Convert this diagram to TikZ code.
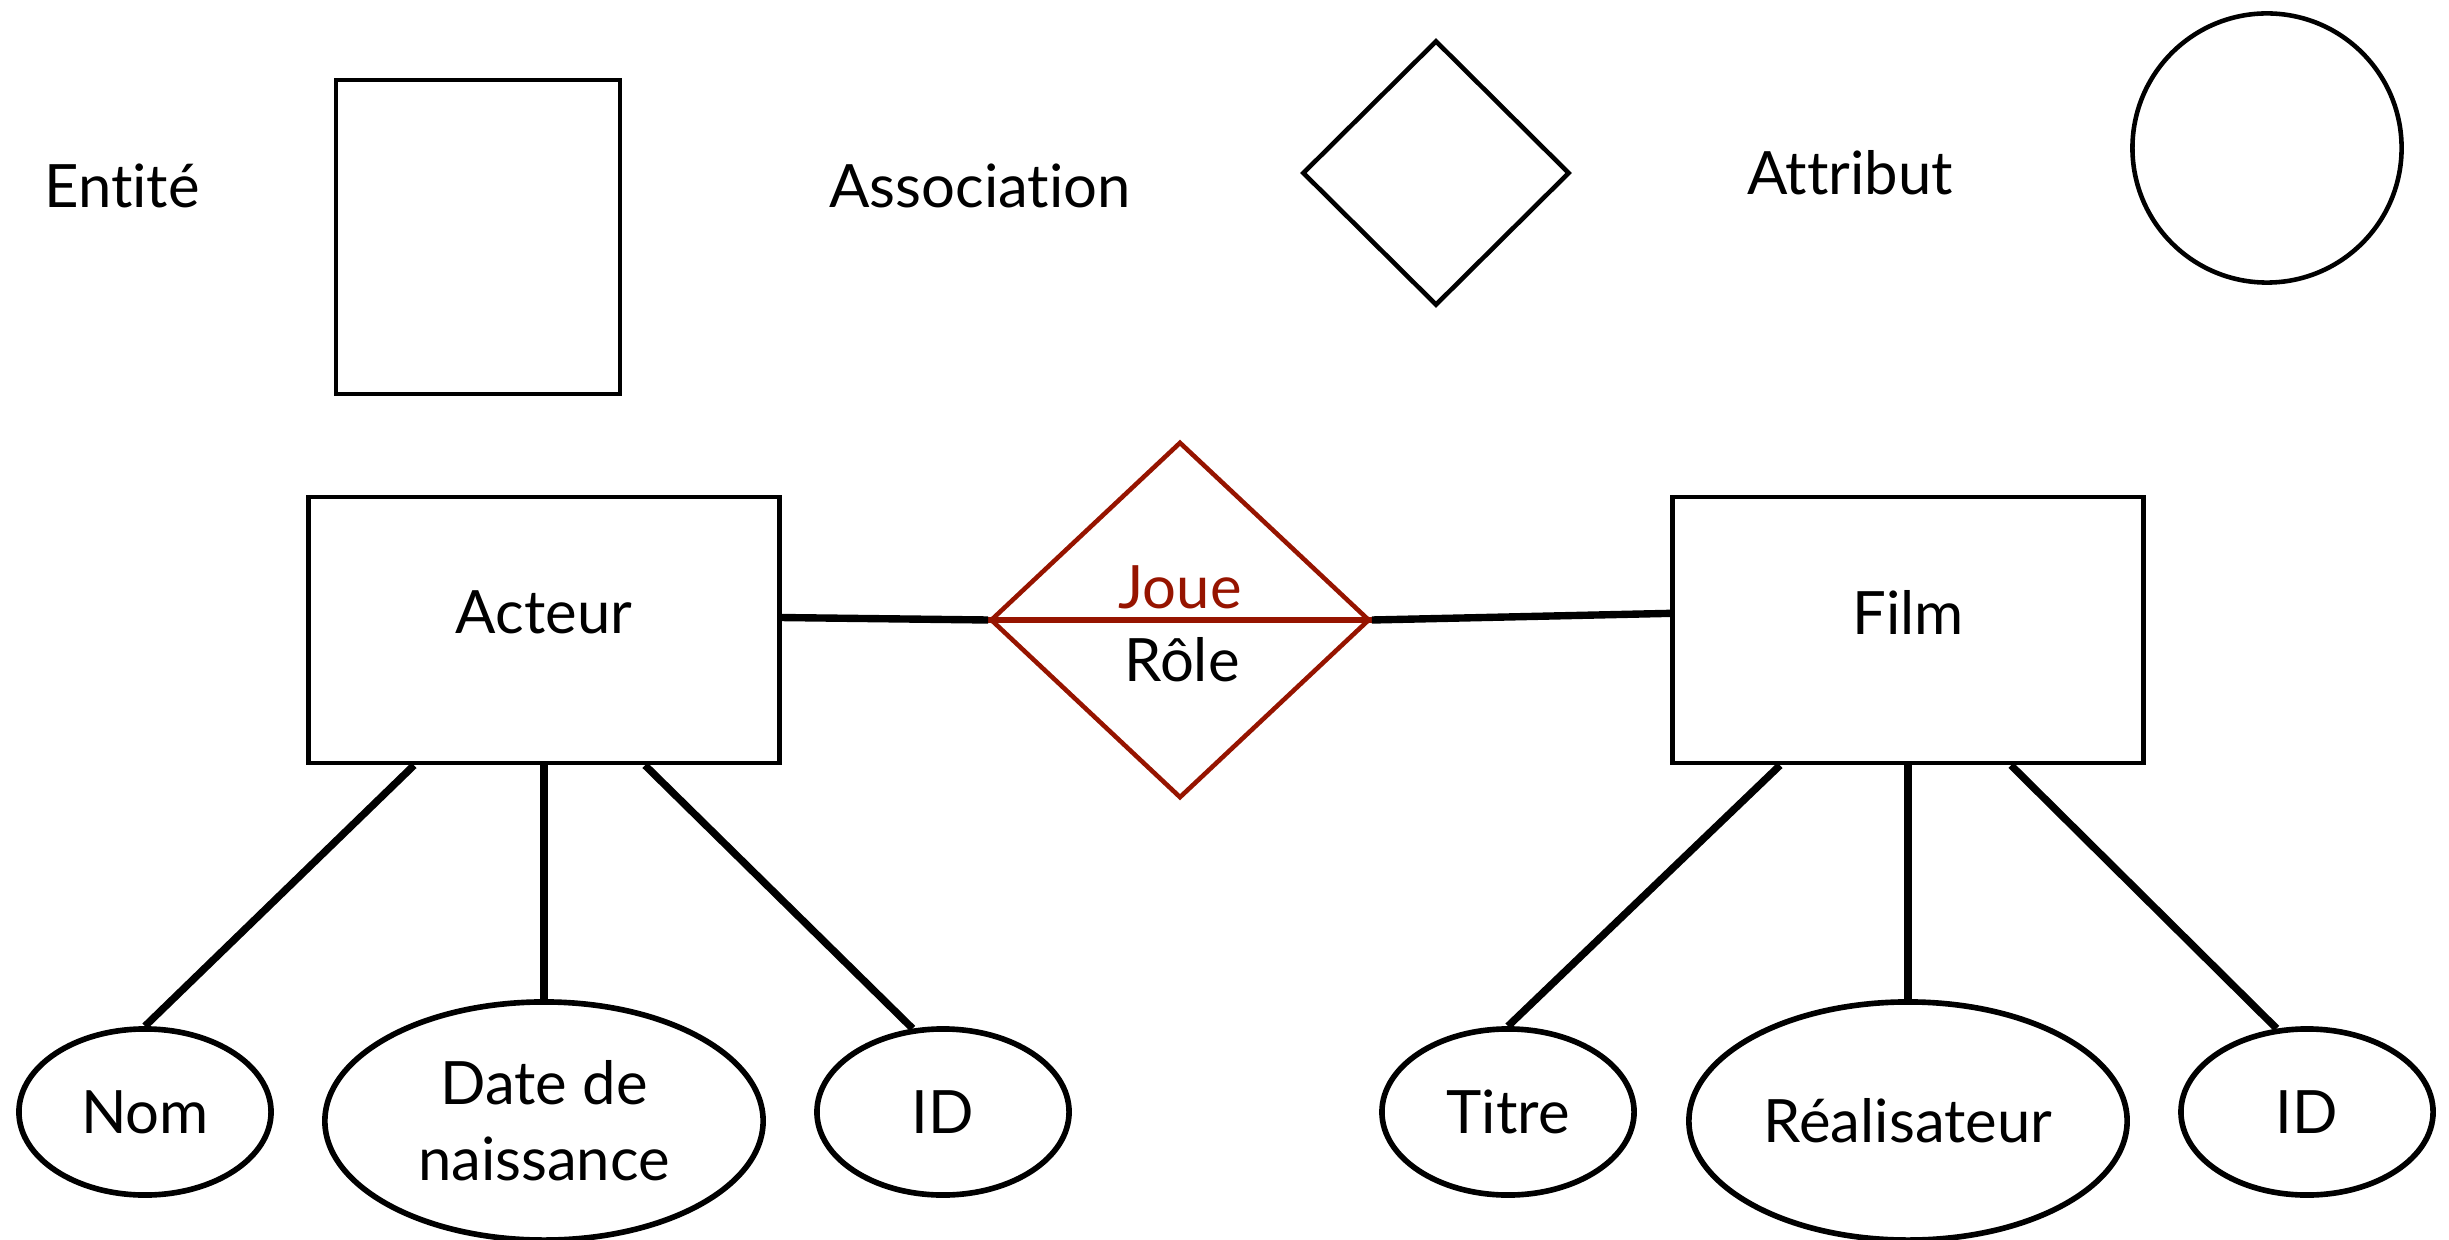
\documentclass[tikz,border=0pt]{standalone}
\usepackage{fontspec}
\setmainfont{Lato}[Ligatures=NoCommon]
\usetikzlibrary{shapes.geometric}
\definecolor{joueRed}{RGB}{150,20,0}

\begin{document}
\begin{tikzpicture}
  [
  x=0.01cm, y=-0.01cm,
  font=\fontsize{17}{21.5}\selectfont, line width=1.3pt, draw=black,
  entity/.style={rectangle, inner sep=0pt, minimum width=4.71cm, minimum height=2.66cm, text depth=0.35cm, draw=black},
  assoc/.style={diamond, inner sep=0pt, minimum width=3.79cm, minimum height=3.56cm, draw=joueRed},
  attr/.style={ellipse, inner sep=0pt, minimum width=2.52cm, minimum height=1.66cm, align=center, line width=1.6pt, draw=black},
  bigattr/.style={attr, minimum width=4.38cm, minimum height=2.38cm},
  link/.style={line width=2.1pt, draw=black}
  ]

\useasboundingbox (0,0) rectangle (2449,1240);

% legend
\node (lent) at (122,186) {Entité};
\node[rectangle, inner sep=0pt, minimum width=2.84cm, minimum height=3.14cm, draw] (lentbox) at (478,237) {};
\node (lassoc) at (980,186) {Association};
\node[diamond, inner sep=0pt, minimum width=2.67cm, minimum height=2.65cm, draw] (lassocbox) at (1436,173) {};
\node (lattr) at (1850,173) {Attribut};
\node[circle, inner sep=0pt, minimum size=2.69cm, draw] (lattrbox) at (2267,148) {};

% entities and association
\node[entity] (acteur) at (544,630) {Acteur};
\node[entity] (film) at (1908,630) {Film};
\node[assoc] (joue) at (1180,620) {};
\draw[joueRed, line width=1.6pt] (joue.west) -- (joue.east);
\node[text=joueRed] (jouetxt) at (1180,587) {Joue};
\node (role) at (1182,660) {Rôle};

\draw[link] (acteur.3) -- (joue.west);
\draw[link] (joue.east) -- (film.176);

% attributes
\node[attr] (nom) at (145,1112) {Nom};
\node[bigattr] (naiss) at (544,1121) {Date de\\naissance};
\node[attr] (ida) at (943,1112) {ID};
\node[attr] (titre) at (1508,1112) {Titre};
\node[bigattr] (real) at (1908,1121) {Réalisateur};
\node[attr] (idf) at (2307,1112) {ID};

\draw[link] ([xshift=-1.3cm]acteur.south) -- (nom.north);
\draw[link] (acteur.south) -- (naiss.north);
\draw[link] ([xshift=1.01cm]acteur.south) -- (ida.110);
\draw[link] ([xshift=-1.28cm]film.south) -- (titre.north);
\draw[link] (film.south) -- (real.north);
\draw[link] ([xshift=1.03cm]film.south) -- (idf.110);

\end{tikzpicture}
\end{document}
